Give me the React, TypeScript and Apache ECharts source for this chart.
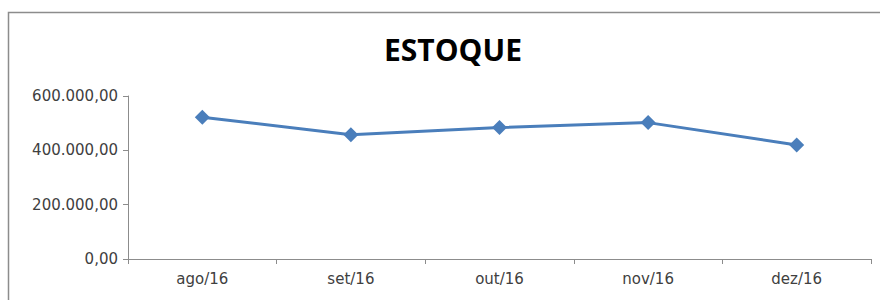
import React, { useEffect, useRef } from "react";
import * as echarts from "echarts";

const categories = ["ago/16", "set/16", "out/16", "nov/16", "dez/16"];
const estoque = [522000, 457000, 484000, 502000, 420000];
const yTicks = [0, 200000, 400000, 600000];

function fmtBR(v: number): string {
  const int = Math.round(v).toString().replace(/\B(?=(\d{3})+(?!\d))/g, ".");
  return int + ",00";
}

export default function App() {
  const ref = useRef<HTMLDivElement>(null);
  useEffect(() => {
    const chart = echarts.init(ref.current!, null, { renderer: "svg" });
    chart.setOption({
      animation: false,
      backgroundColor: "#ffffff",
      title: {
        text: "ESTOQUE",
        left: 379,
        top: 29,
        textStyle: { fontFamily: "Open Sans", fontWeight: "bold", fontSize: 30, color: "#000000" },
      },
      graphic: [
        {
          type: "rect",
          shape: { x: 8.5, y: 12.5, width: 900, height: 320 },
          style: { fill: "none", stroke: "#8c8c8c", lineWidth: 1.5 },
          silent: true,
        },
      ],
      grid: { left: 128, right: 9, top: 96, bottom: 41 },
      xAxis: {
        type: "category",
        data: categories,
        boundaryGap: true,
        axisLine: { lineStyle: { color: "#8c8c8c", width: 1 } },
        axisTick: { show: true, length: 5, lineStyle: { color: "#8c8c8c" } },
        axisLabel: { fontFamily: "DejaVu Sans", fontSize: 15, color: "#404040", margin: 12 },
      },
      yAxis: {
        type: "value",
        min: yTicks[0],
        max: yTicks[yTicks.length - 1],
        interval: 200000,
        splitLine: { show: false },
        axisLine: { show: true, lineStyle: { color: "#8c8c8c", width: 1 } },
        axisTick: { show: true, length: 5, lineStyle: { color: "#8c8c8c" } },
        axisLabel: {
          fontFamily: "DejaVu Sans",
          fontSize: 15,
          color: "#404040",
          margin: 10,
          formatter: (v: number) => fmtBR(v),
        },
      },
      series: [
        {
          type: "line",
          data: estoque,
          symbol: "diamond",
          symbolSize: 15,
          lineStyle: { color: "#4a7ebb", width: 3 },
          itemStyle: { color: "#4a7ebb" },
        },
      ],
    });
    return () => chart.dispose();
  }, []);
  return (
    <div
      ref={ref}
      style={{ position: "fixed", left: 0, top: 0, width: 880, height: 300 }}
    />
  );
}
